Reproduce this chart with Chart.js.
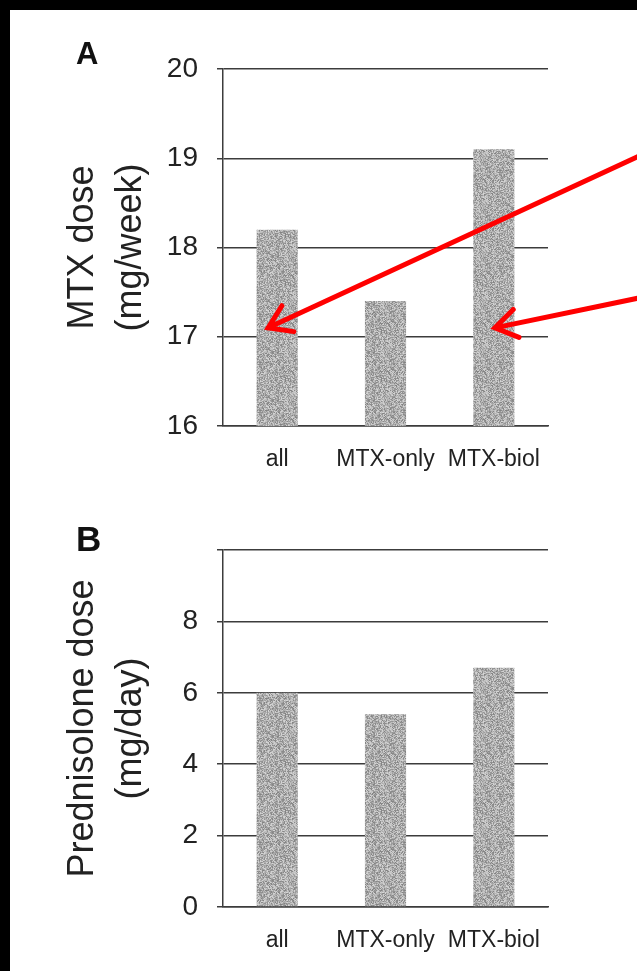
<!DOCTYPE html>
<html lang="en">
<head>
  <meta charset="UTF-8">
  <title>MTX and prednisolone dose</title>
  <script src="https://cdn.jsdelivr.net/npm/chart.js"></script>
  <style>
    body { margin: 0; background: #000; width: 637px; height: 971px; overflow: hidden; }
    .panel { position: absolute; left: 10px; top: 10px; width: 627px; height: 961px; background: #fff; }
    canvas { position: absolute; left: 0; }
    #chartA { top: 0; }
    #chartB { top: 480px; }
    .letter { position: absolute; left: 66px; font-family: "Liberation Sans", Arial, sans-serif; font-weight: bold; line-height: 1; color: #111; }
  </style>
</head>
<body>
  <div class="panel">
    <canvas id="chartA" width="627" height="480"></canvas>
    <canvas id="chartB" width="627" height="481"></canvas>
    <div class="letter" style="top:28px; font-size:31px;">A</div>
    <div class="letter" style="top:511px; font-size:35px;">B</div>
  </div>

  <script>
    const groups = ['all', 'MTX-only', 'MTX-biol'];
    const mtxDose = [18.2, 17.4, 19.1];        // mg/week
    const prednisoloneDose = [6.0, 5.4, 6.7];  // mg/day

    const ink = '#222';
    const gridColor = '#3c3c3c';
    const font = '"Liberation Sans", Arial, sans-serif';

    // grainy grey fill for the bars
    function speckle() {
      const c = document.createElement('canvas');
      c.width = 48; c.height = 48;
      const g = c.getContext('2d');
      const img = g.createImageData(48, 48);
      let seed = 12345;
      const rnd = () => (seed = (seed * 1103515245 + 12345) % 2147483648) / 2147483648;
      for (let i = 0; i < 48 * 48; i++) {
        const v = Math.round(130 + rnd() * 85);
        img.data[i * 4] = v; img.data[i * 4 + 1] = v; img.data[i * 4 + 2] = v; img.data[i * 4 + 3] = 255;
      }
      g.putImageData(img, 0, 0);
      return g.createPattern(c, 'repeat');
    }
    const barFill = speckle();

    function drawArrow(ctx, x0, y0, x1, y1) {
      const a = Math.atan2(y0 - y1, x0 - x1);
      const len = 26, spread = 0.58;
      ctx.beginPath();
      ctx.moveTo(x0, y0); ctx.lineTo(x1, y1);
      ctx.moveTo(x1 + len * Math.cos(a - spread), y1 + len * Math.sin(a - spread));
      ctx.lineTo(x1, y1);
      ctx.lineTo(x1 + len * Math.cos(a + spread), y1 + len * Math.sin(a + spread));
      ctx.stroke();
    }

    // red pointers onto the 'all' and 'MTX-biol' bars
    const pointers = {
      id: 'pointers',
      afterDatasetsDraw(chart) {
        const { ctx, scales: { x, y } } = chart;
        const tipY = y.getPixelForValue(17.1);
        ctx.save();
        ctx.strokeStyle = '#ff0000';
        ctx.lineWidth = 5;
        ctx.lineCap = 'round';
        ctx.lineJoin = 'miter';
        drawArrow(ctx, chart.width + 2, 146, x.getPixelForValue(0) - 9, tipY);
        drawArrow(ctx, chart.width + 2, 288, x.getPixelForValue(2) + 1, tipY);
        ctx.restore();
      }
    };

    function barChart(id, values, yMin, yMax, step, title, hideTop, topPad, plugins) {
      return new Chart(document.getElementById(id), {
        type: 'bar',
        data: {
          labels: groups,
          datasets: [{ data: values, backgroundColor: barFill, borderWidth: 0,
                       categoryPercentage: 1, barPercentage: 0.38 }]
        },
        options: {
          responsive: false,
          animation: false,
          layout: { padding: { left: 0, right: 89, top: topPad, bottom: 0 } },
          plugins: { legend: { display: false }, tooltip: { enabled: false } },
          scales: {
            x: {
              grid: { display: false, drawTicks: false },
              border: { display: true, color: gridColor, width: 1.5 },
              ticks: {
                color: ink, padding: 20, maxRotation: 0, minRotation: 0, autoSkip: false,
                font: { family: font, size: 23 }
              },
              afterFit: s => { s.height = 64; }
            },
            y: {
              min: yMin, max: yMax,
              grid: { color: gridColor, lineWidth: 1.5, tickLength: 6 },
              border: { display: true, color: gridColor, width: 1.5 },
              ticks: {
                stepSize: step, color: ink, padding: 19,
                font: { family: font, size: 28 },
                callback: v => (hideTop && v === yMax ? '' : v)
              },
              title: {
                display: true, text: title, color: ink,
                font: { family: font, size: 36, lineHeight: 1.33 },
                padding: { top: 49, bottom: 0 }
              },
              afterFit: s => { s.width = 213; }
            }
          }
        },
        plugins: plugins
      });
    }

    barChart('chartA', mtxDose, 16, 20, 1, ['MTX dose', '(mg/week)'], false, 59, [pointers]);
    barChart('chartB', prednisoloneDose, 0, 10, 2, ['Prednisolone dose', '(mg/day)'], true, 60, []);
  </script>
</body>
</html>
